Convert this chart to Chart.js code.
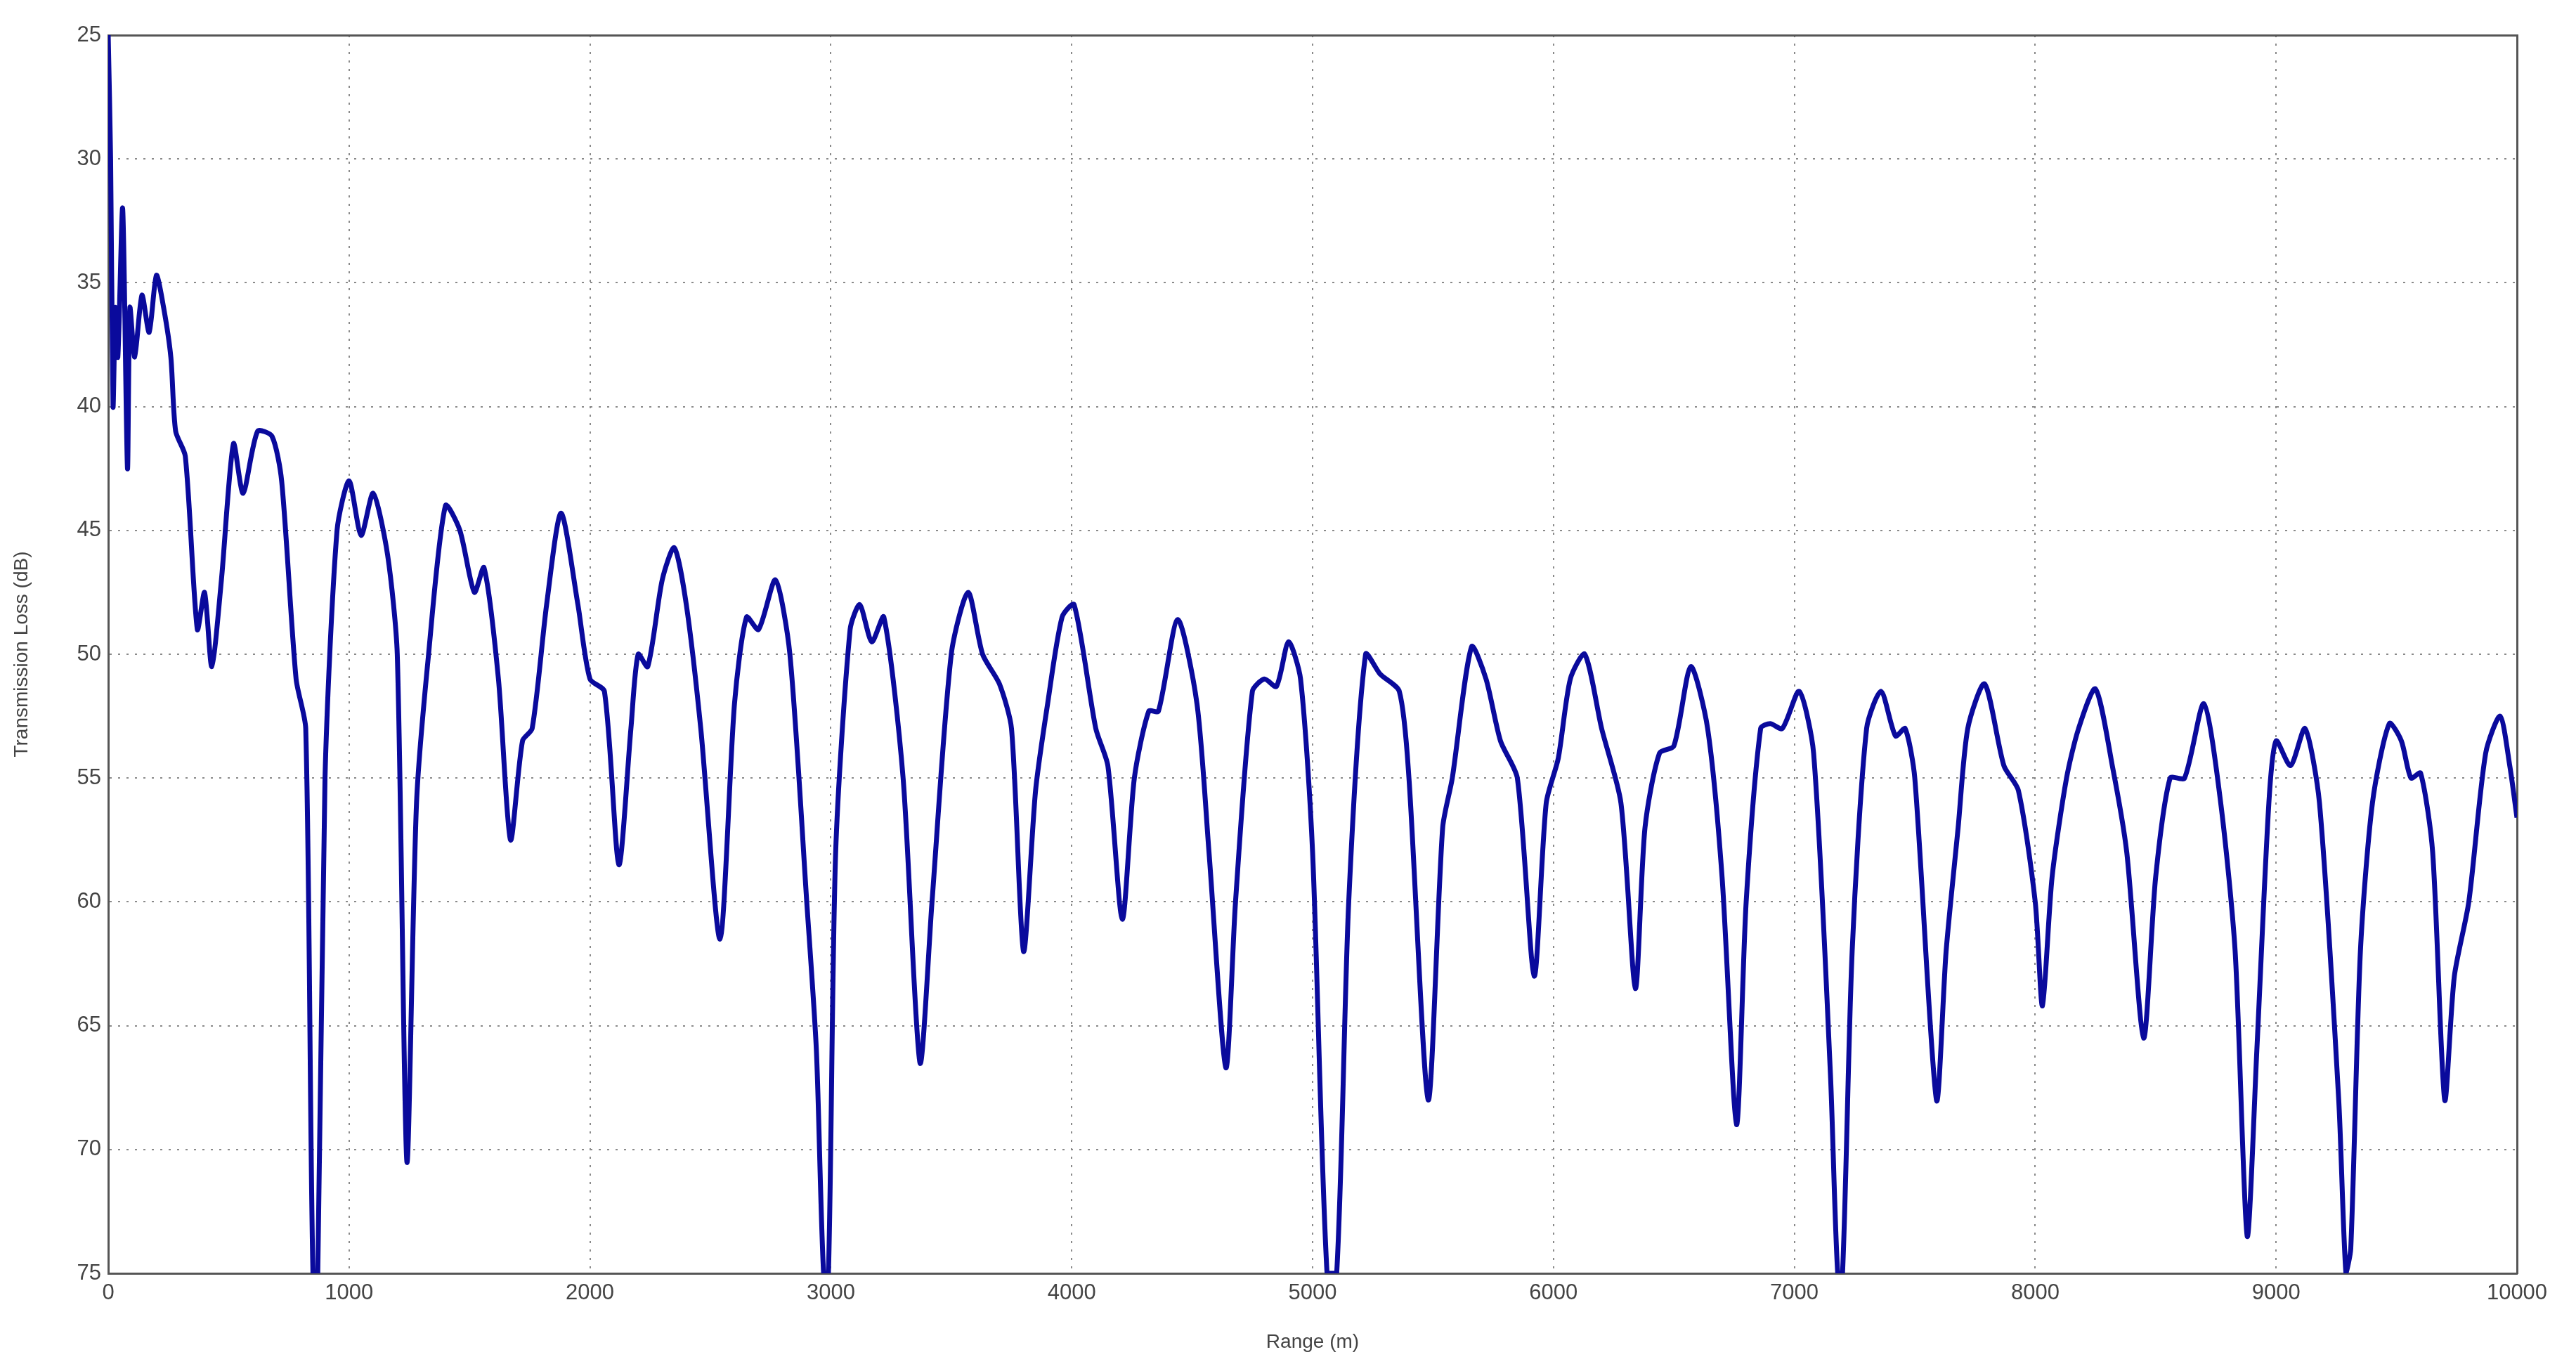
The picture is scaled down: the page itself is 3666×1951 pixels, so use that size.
<!DOCTYPE html>
<html><head><meta charset="utf-8">
<script src="https://cdn.jsdelivr.net/npm/chart.js@4/dist/chart.umd.min.js"></script>
<style>html,body{margin:0;padding:0;background:#fff}#w{width:3666px;height:1951px}</style>
</head><body><div id="w"><canvas id="c"></canvas></div>
<script>
const rangeM = [0,10,20,30,40,60,80,90,110,140,170,200,230,260,280,320,370,400,430,470,520,560,620,680,720,780,820,850,870,900,950,1000,1050,1100,1160,1200,1240,1280,1330,1400,1460,1520,1560,1620,1670,1720,1760,1820,1880,1950,2000,2060,2120,2170,2200,2240,2300,2350,2400,2460,2540,2600,2650,2700,2770,2830,2900,2940,2970,2990,3020,3080,3120,3170,3220,3300,3370,3420,3500,3570,3630,3700,3750,3800,3850,3900,3960,4010,4100,4150,4210,4260,4320,4360,4440,4520,4570,4640,4680,4750,4800,4850,4900,4950,5000,5060,5100,5150,5220,5280,5360,5400,5480,5540,5580,5660,5720,5780,5850,5920,5970,6020,6070,6130,6200,6280,6340,6380,6440,6500,6570,6640,6700,6760,6800,6860,6900,6950,7020,7080,7150,7180,7200,7240,7300,7360,7420,7460,7500,7590,7630,7680,7720,7790,7870,7930,8000,8030,8070,8130,8180,8250,8320,8380,8450,8500,8560,8620,8700,8770,8830,8880,8920,8970,9000,9060,9120,9180,9260,9290,9310,9350,9400,9470,9520,9560,9600,9650,9700,9740,9800,9870,9930,9970,10000];
const lossDb = [25,30,40,36,38,32,42.5,36,38,35.5,37,34.7,36,38,41,42,49,47.5,50.5,47,41.5,43.5,41,41.2,43,51,53,75,75,55,45,43,45.2,43.5,46,50,70.5,56,50,44,45,47.5,46.5,51,57.5,53.5,53,48,44.3,48,51,51.5,58.5,53,50,50.5,47,45.7,48,53,61.5,52,48.5,49,47,50,60,66,75,75,58,49,48,49.5,48.5,55,66.5,60,50,47.5,50,51.2,53,62,55.5,52,48.5,48,53,54.5,60.7,55,52.3,52.3,48.6,52,58,66.7,60,51.5,51,51.3,49.5,51,58,75,75,60,50,50.8,51.5,55,68,57,55,49.7,51,53.5,55,63,56,54.2,51,50,53,56,63.5,57,54,53.7,50.5,53,59,69,60,53,52.8,53,51.5,54,67,75,75,62,53,51.5,53.3,53,55,68,62,57,53,51.2,54.5,55.5,60,64.2,59,55,53,51.4,54.5,58,65.5,59,55,55,52,56,62,73.5,66,56,53.5,54.5,53,56,68,75,74,62,56,52.8,53.5,55,54.8,58,68,63,60,54,52.5,54.5,56.6];
const xTicks = [0,1000,2000,3000,4000,5000,6000,7000,8000,9000,10000];
const yTicks = [25,30,35,40,45,50,55,60,65,70,75];
const pts = rangeM.map((r,i)=>({x:r,y:lossDb[i]}));
const grid = {color:'#8a8a8a',lineWidth:2,tickLength:0,drawTicks:false};
const bord = {display:true,color:'#555',width:3,dash:[3,9]};
new Chart(document.getElementById('c'),{
 type:'line',
 data:{datasets:[{data:pts,borderColor:'#0a0a9c',borderWidth:7,pointRadius:0,tension:0.25,fill:false}]},
 options:{responsive:true,maintainAspectRatio:false,animation:false,
  layout:{padding:{top:50,right:84,left:10,bottom:20}},
  plugins:{legend:{display:false},tooltip:{enabled:false}},
  scales:{
   x:{type:'linear',min:0,max:10000,afterBuildTicks:s=>{s.ticks=xTicks.map(v=>({value:v}))},
      grid:grid,border:bord,
      ticks:{color:'#444',font:{family:'Liberation Sans',size:31},padding:10,maxRotation:0,callback:v=>String(v)},
      title:{display:true,text:'Range (m)',color:'#444',font:{family:'Liberation Sans',size:28},padding:{top:0}},
      afterFit:s=>{s.height=119}},
   y:{reverse:true,min:25,max:75,afterBuildTicks:s=>{s.ticks=yTicks.map(v=>({value:v}))},
      grid:grid,border:bord,
      ticks:{color:'#444',font:{family:'Liberation Sans',size:31},padding:10,callback:v=>String(v)},
      title:{display:true,text:'Transmission Loss (dB)',color:'#444',font:{family:'Liberation Sans',size:28},padding:{bottom:8}},
      afterFit:s=>{s.width=144}},
   x2:{type:'linear',position:'top',min:0,max:10000,grid:{display:false},ticks:{display:false},border:{display:true,color:'#555',width:3},afterFit:s=>{s.height=0}},
   y2:{position:'right',min:25,max:75,reverse:true,grid:{display:false},ticks:{display:false},border:{display:true,color:'#555',width:3},afterFit:s=>{s.width=0}}
  }}
});
</script></body></html>
